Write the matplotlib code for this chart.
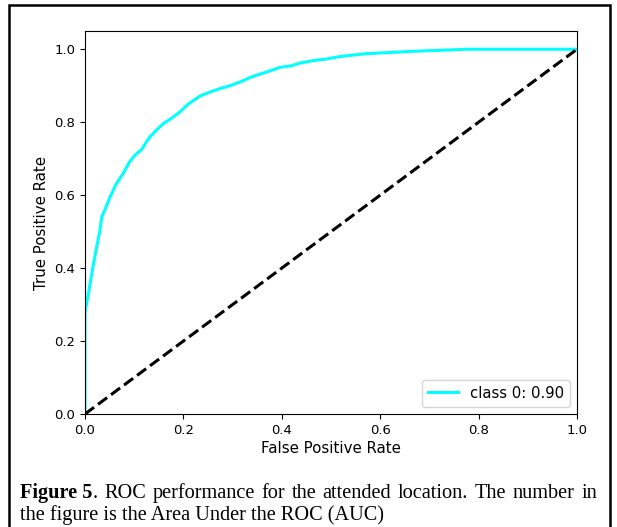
import numpy as np
import matplotlib.pyplot as plt
from matplotlib.patches import Rectangle

# ROC curve
fpr = [0.0, 0.0, 0.0, 0.003, 0.007, 0.012, 0.017, 0.024, 0.030, 0.034, 0.042, 0.051,
       0.064, 0.078, 0.090, 0.102, 0.115, 0.125, 0.132, 0.145, 0.159, 0.175, 0.193,
       0.210, 0.234, 0.255, 0.274, 0.295, 0.315, 0.335, 0.349, 0.370, 0.396, 0.420,
       0.437, 0.460, 0.490, 0.518, 0.545, 0.573, 0.620, 0.660, 0.720, 0.776, 0.840,
       0.900, 1.0]
tpr = [0.0, 0.15, 0.28, 0.30, 0.33, 0.37, 0.41, 0.46, 0.50, 0.54, 0.565, 0.595,
       0.632, 0.66, 0.69, 0.71, 0.725, 0.746, 0.76, 0.778, 0.796, 0.81, 0.828,
       0.85, 0.872, 0.883, 0.892, 0.90, 0.91, 0.922, 0.929, 0.938, 0.950, 0.955,
       0.962, 0.968, 0.973, 0.980, 0.984, 0.988, 0.991, 0.994, 0.997, 1.0, 1.0,
       1.0, 1.0]
auc_label = 'class 0: 0.90'

W, H = 617, 527
fig = plt.figure(figsize=(W / 100, H / 100), dpi=100)
ax = fig.add_axes([85 / W, 1 - 414 / H, 492 / W, 383 / H])

ax.plot(fpr, tpr, color='aqua', lw=2.2, label=auc_label)
ax.plot([0, 1], [0, 1], 'k--', lw=2.2)
ax.set_xlim([0.0, 1.0])
ax.set_ylim([0.0, 1.05])
ax.set_xlabel('False Positive Rate', fontsize=10.8, labelpad=3)
ax.set_ylabel('True Positive Rate', fontsize=10.8)
ax.tick_params(labelsize=9.5)
ax.legend(loc='lower right', fontsize=10.7)

# outer frame
fig.patches.append(Rectangle((9 / W, -0.01), 601 / W, 1 - 5 / H + 0.01,
                             transform=fig.transFigure, fill=False,
                             edgecolor='black', lw=1.8))

# caption, first line justified between x=20 and x=597
serif = 'Liberation Serif'
fs = 14.6
y1 = 1 - 498 / H
y2 = 1 - 520 / H
left, right = 20, 597
words = [('Figure 5', 'bold'), ('.', 'normal')]
rest = 'ROC performance for the attended location. The number in'.split()
fig.canvas.draw()
r = fig.canvas.get_renderer()

def width(s, w):
    t = fig.text(0, 0, s, fontsize=fs, family=serif, weight=w)
    wd = t.get_window_extent(r).width
    t.remove()
    return wd

head_w = width('Figure 5', 'bold') + width('.', 'normal')
ws = [width(s, 'normal') for s in rest]
gap = (right - left - head_w - sum(ws)) / len(rest)
x = left
fig.text(x / W, y1, 'Figure 5', fontsize=fs, family=serif, weight='bold', va='baseline')
x += width('Figure 5', 'bold')
fig.text(x / W, y1, '.', fontsize=fs, family=serif, va='baseline')
x += width('.', 'normal')
for s, wd in zip(rest, ws):
    x += gap
    fig.text(x / W, y1, s, fontsize=fs, family=serif, va='baseline')
    x += wd
fig.text(left / W, y2, 'the figure is the Area Under the ROC (AUC)',
         fontsize=fs, family=serif, va='baseline')

fig.savefig('out.png', dpi=100)
